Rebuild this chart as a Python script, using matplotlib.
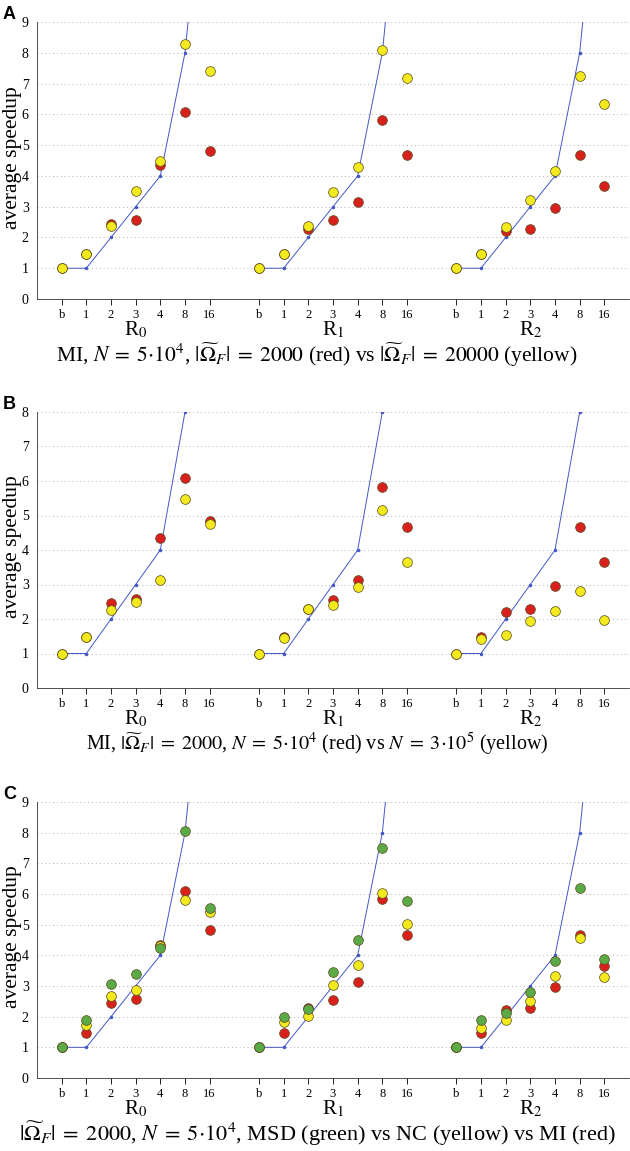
import numpy as np
import matplotlib.pyplot as plt

plt.rcParams['font.family'] = 'Liberation Serif'
plt.rcParams['mathtext.fontset'] = 'stix'

# x categories within each group (R0, R1, R2)
cats = ["b", "1", "2", "3", "4", "8", "16"]
groups = ["R$_0$", "R$_1$", "R$_2$"]
ideal = [1, 1, 2, 3, 4, 8, 16]

# Panel A: MI, N=5e4, |Omega|=2000 (red) vs 20000 (yellow)
a_red = [[1, 1.47, 2.45, 2.58, 4.35, 6.07, 4.82],
         [1, 1.47, 2.29, 2.56, 3.14, 5.83, 4.67],
         [1, 1.47, 2.21, 2.29, 2.96, 4.67, 3.66]]
a_yellow = [[1, 1.47, 2.36, 3.50, 4.50, 8.27, 7.40],
            [1, 1.47, 2.37, 3.49, 4.30, 8.09, 7.17],
            [1, 1.47, 2.33, 3.22, 4.15, 7.26, 6.32]]

# Panel B: MI, |Omega|=2000, N=5e4 (red) vs N=3e5 (yellow)
b_red = [[1, 1.47, 2.45, 2.58, 4.34, 6.08, 4.83],
         [1, 1.48, 2.29, 2.56, 3.13, 5.83, 4.67],
         [1, 1.49, 2.21, 2.28, 2.96, 4.67, 3.66]]
b_yellow = [[1, 1.47, 2.25, 2.49, 3.14, 5.48, 4.76],
            [1, 1.44, 2.29, 2.41, 2.94, 5.16, 3.65],
            [1, 1.41, 1.53, 1.95, 2.23, 2.80, 1.98]]

# Panel C: MSD (green) vs NC (yellow) vs MI (red)
c_red = [[1, 1.47, 2.45, 2.58, 4.35, 6.09, 4.83],
         [1, 1.47, 2.29, 2.55, 3.12, 5.83, 4.67],
         [1, 1.47, 2.21, 2.28, 2.96, 4.67, 3.65]]
c_yellow = [[1, 1.72, 2.67, 2.86, 4.30, 5.82, 5.41],
            [1, 1.82, 2.02, 3.04, 3.68, 6.03, 5.01],
            [1, 1.64, 1.90, 2.50, 3.33, 4.57, 3.30]]
c_green = [[1, 1.88, 3.05, 3.40, 4.23, 8.05, 5.55],
           [1, 1.99, 2.25, 3.47, 4.51, 7.49, 5.76],
           [1, 1.90, 2.12, 2.82, 3.80, 6.18, 3.88]]

RED = "#d8211d"
YELLOW = "#f2ea1c"
GREEN = "#5aaa46"
BLUE = "#4357c6"

EQ = r"\;=\;"
OM = r"|\widetilde{\Omega}_F|"
captions = [
    r"MI, $N" + EQ + r"5{\cdot}10^4$, $" + OM + EQ + r"2000$ (red) vs $" + OM + EQ + r"20000$ (yellow)",
    r"MI, $" + OM + EQ + r"2000$, $N" + EQ + r"5{\cdot}10^4$ (red) vs $N" + EQ + r"3{\cdot}10^5$ (yellow)",
    r"$" + OM + EQ + r"2000$, $N" + EQ + r"5{\cdot}10^4$, MSD (green) vs NC (yellow) vs MI (red)",
]
cap_sizes = [15.5, 14.5, 16]
panels = [
    ("A", 9, [(a_red, RED), (a_yellow, YELLOW)]),
    ("B", 8, [(b_red, RED), (b_yellow, YELLOW)]),
    ("C", 9, [(c_red, RED), (c_yellow, YELLOW), (c_green, GREEN)]),
]
# axes top / bottom in pixels of the 1151 px figure
boxes = [(22, 299), (412, 688), (802, 1078)]

W, H = 630, 1151
fig = plt.figure(figsize=(W / 100, H / 100), dpi=100)


def fy(px):
    return 1 - px / H


for p, (letter, ymax, series) in enumerate(panels):
    top, bot = boxes[p]
    ax = fig.add_axes([37 / W, fy(bot), (W - 38) / W, (bot - top) / H])
    ax.set_xlim(-1, 23)
    ax.set_ylim(0, ymax)
    xs_all, labels = [], []
    for g in range(3):
        xs = np.arange(len(cats)) + 8 * g
        xs_all += list(xs)
        labels += cats
        ax.plot(xs, ideal, color=BLUE, lw=0.7, marker="o", ms=1.5, zorder=2)
        for k, (vals, col) in enumerate(series):
            ax.plot(xs, vals[g], ls="none", marker="o", ms=7, mfc=col,
                    mec="#5a4a20", mew=0.5, zorder=3 + k)
        # group label under the tick labels, centred on the group
        ax.annotate(groups[g], xy=(8 * g + 3, 0), xycoords=("data", "axes fraction"),
                    xytext=(0, -15), textcoords="offset points",
                    ha="center", va="top", fontsize=15, annotation_clip=False)
    ax.set_xticks(xs_all)
    ax.set_xticklabels(labels)
    ax.set_yticks(range(0, ymax + 1))
    ax.tick_params(axis="x", direction="out", length=4, width=0.6, labelsize=9, pad=3)
    ax.tick_params(axis="y", direction="in", length=0, labelsize=10, pad=6)
    for y in range(1, ymax + 1):
        ax.axhline(y, color="#b0b0b0", lw=0.7, ls=(0, (1, 3)), zorder=1)
    for s in ["top", "right"]:
        ax.spines[s].set_visible(False)
    for s in ["left", "bottom"]:
        ax.spines[s].set_linewidth(0.6)
        ax.spines[s].set_color("#333333")
    fig.text(12 / W, fy((top + bot) / 2 - 3), "average speedup", rotation=90,
             ha="center", va="center", fontsize=15.5)
    fig.text(3 / W, fy(top - 16), letter, fontsize=13, fontweight="bold",
             family="Liberation Sans", ha="left", va="top")
    fig.text(317 / W, fy(bot + 56), captions[p], ha="center", va="center",
             fontsize=cap_sizes[p])

fig.savefig("out.png", dpi=100)
